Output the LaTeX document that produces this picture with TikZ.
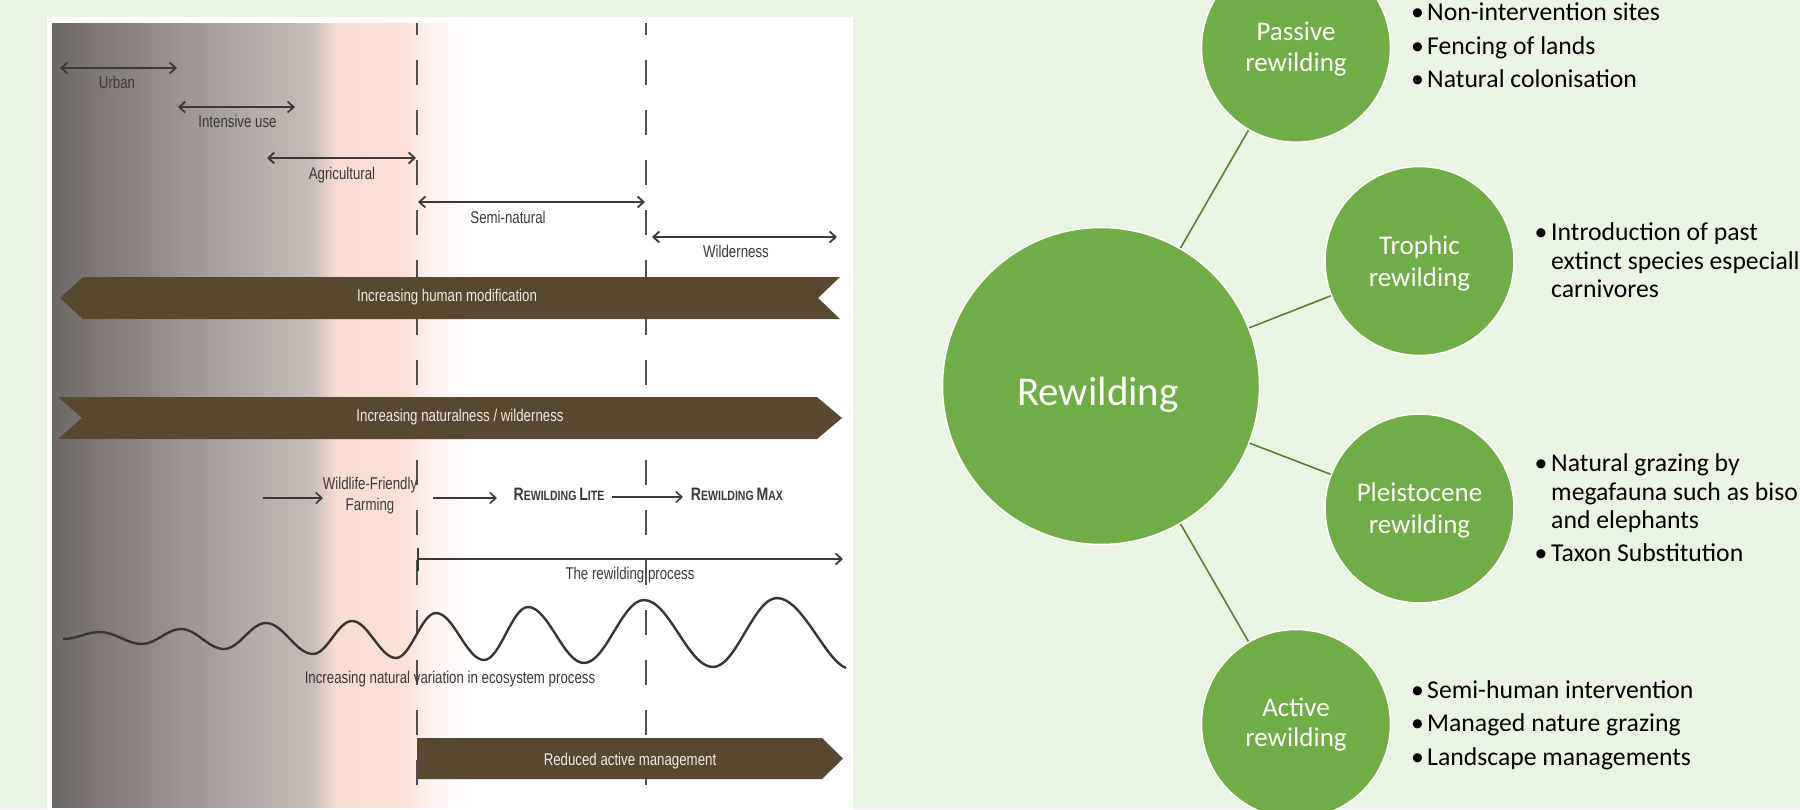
\documentclass[tikz,border=0pt]{standalone}
\usepackage{fontspec}
\setmainfont{Carlito}
\newfontfamily\narrowf[FakeStretch=0.78]{Liberation Sans}
\usetikzlibrary{arrows.meta}
\definecolor{bg}{HTML}{E9F5E2}
\definecolor{leaf}{HTML}{70AD47}
\definecolor{stem}{HTML}{548235}
\definecolor{bark}{HTML}{594830}
\definecolor{ink}{HTML}{3A3532}
\definecolor{lblgray}{HTML}{3C3A38}
\definecolor{bartext}{HTML}{EEEAE2}
\definecolor{dashgray}{HTML}{505050}
\definecolor{gA}{HTML}{6E6864}
\definecolor{gB}{HTML}{8E8682}
\definecolor{gC}{HTML}{B0A8A4}
\definecolor{gD}{HTML}{C6BCB8}
\definecolor{gE}{HTML}{F7DCD2}
\definecolor{gF}{HTML}{FCE0D6}
\definecolor{gG}{HTML}{FEF3EF}
\newcommand{\bigc}[1]{{\fontsize{18}{20}\selectfont #1}}
\begin{document}
\begin{tikzpicture}[x=1pt,y=-1pt,
  lbl/.style={font=\narrowf\fontsize{17}{20}\selectfont, text=lblgray, inner sep=0pt, anchor=base},
  smc/.style={font=\narrowf\bfseries\fontsize{13.5}{15}\selectfont, text=lblgray, inner sep=0pt, anchor=base},
  bartxt/.style={font=\narrowf\fontsize{17}{20}\selectfont, text=bartext, inner sep=0pt, anchor=base},
  span/.style={draw=lblgray, line width=1.8pt, {Straight Barb[length=6pt,width=11pt]}-{Straight Barb[length=6pt,width=11pt]}},
  fwd/.style={draw=lblgray, line width=1.6pt, -{Straight Barb[length=6pt,width=11pt]}},
  guide/.style={draw=dashgray, line width=1.8pt, dash pattern=on 25pt off 25pt, dash phase=13pt},
  bar/.style={fill=bark, draw=none},
  wave/.style={draw=ink, line width=2.4pt},
  hub/.style={circle, fill=leaf, draw=white, line width=1.5pt, inner sep=0pt},
  ctext/.style={font=\fontsize{27}{32}\selectfont, text=white, inner sep=0pt, anchor=base},
  btext/.style={font=\fontsize{25.7}{30}\selectfont, text=black, inner sep=0pt, anchor=base west},
  dot/.style={font=\fontsize{25.7}{30}\selectfont, text=black, inner sep=0pt, anchor=base},
  stemline/.style={draw=stem, line width=1.6pt}]
\useasboundingbox (0,0) rectangle (1800,809);
\clip (0,0) rectangle (1800,809);
\fill[bg] (0,0) rectangle (1800,809);
% ---------- left panel ----------
\fill[white] (47,17) rectangle (853,809);
\shade[left color=gA, right color=gB] (52,23) rectangle (140.5,807);
\shade[left color=gB, right color=gC] (140,23) rectangle (240.5,807);
\shade[left color=gC, right color=gD] (240,23) rectangle (312.5,807);
\shade[left color=gD, right color=gE] (312,23) rectangle (335.5,807);
\shade[left color=gE, right color=gF] (335,23) rectangle (405.5,807);
\shade[left color=gF, right color=gG] (405,23) rectangle (430.5,807);
\shade[left color=gG, right color=white] (430,23) rectangle (470,807);
% dashed guides
\draw[guide] (417,23) -- (417,809);
\draw[guide] (646,23) -- (646,809);
% span arrows
\draw[span] (60,68) -- (177,68);
\node[lbl] (urban) at (117,88) {Urban};
\draw[span] (178,107) -- (295,107);
\node[lbl] (intense) at (237.5,127.5) {Intensive use};
\draw[span] (267,158) -- (416,158);
\node[lbl] (agri) at (342,179) {Agricultural};
\draw[span] (418,202) -- (645,202);
\node[lbl] (semi) at (508,223) {Semi-natural};
\draw[span] (652,237) -- (837,237);
\node[lbl] (wild) at (736,257) {Wilderness};
% bars
\fill[bar] (83,277) -- (840,277) -- (818,298) -- (840,319) -- (83,319) -- (60,298) -- cycle;
\node[bartxt] (hm) at (447,301.7) {Increasing human modification};
\fill[bar] (58,397) -- (817,397) -- (842,418) -- (817,439) -- (58,439) -- (82,418) -- cycle;
\node[bartxt] (nw) at (460,421.7) {Increasing naturalness / wilderness};
% rewilding continuum
\draw[fwd] (263,498) -- (323,498);
\node[lbl] (wf1) at (370,489) {Wildlife-Friendly};
\node[lbl] (wf2) at (370,510.7) {Farming};
\draw[fwd] (433,498) -- (497,498);
\node[smc] (lite) at (559,500.6) {\bigc{R}EWILDING \bigc{L}ITE};
\draw[fwd] (612,497) -- (683,497);
\node[smc] (max) at (737,500.6) {\bigc{R}EWILDING \bigc{M}AX};
\draw[draw=lblgray, line width=1.8pt, {Bar[width=23pt]}-{Straight Barb[length=6pt,width=11pt]}] (417,559) -- (843,559);
\node[lbl] (proc) at (630,579) {The rewilding process};
% wave
\draw[wave] (63,639)
 .. controls (76.5,639) and (86.5,632) .. (100,632)
 .. controls (115.3,632) and (126.7,644) .. (142,644)
 .. controls (156.2,644) and (166.8,629) .. (181,629)
 .. controls (196.7,629) and (208.3,649) .. (224,649)
 .. controls (239.3,649) and (250.7,623) .. (266,623)
 .. controls (283.1,623) and (295.9,654) .. (313,654)
 .. controls (327.2,654) and (337.8,621) .. (352,621)
 .. controls (368,621) and (380,658) .. (396,658)
 .. controls (410.6,658) and (421.4,613) .. (436,613)
 .. controls (453.5,613) and (466.5,660) .. (484,660)
 .. controls (500,660) and (512,607) .. (528,607)
 .. controls (548.4,607) and (563.6,663) .. (584,663)
 .. controls (605.9,663) and (622.1,600) .. (644,600)
 .. controls (669.1,600) and (687.9,667) .. (713,667)
 .. controls (736.3,667) and (753.7,598) .. (777,598)
 .. controls (802.1,598) and (825,660) .. (846,668);
\node[lbl] (var) at (450,683) {Increasing natural variation in ecosystem process};
\fill[bar] (417,738) -- (822,738) -- (843,758.5) -- (822,779) -- (417,779) -- cycle;
\node[bartxt] (ram) at (630,765) {Reduced active management};
% ---------- right: mind map ----------
\node[hub, minimum size=317pt] (main) at (1101,386) {};
\node[hub, minimum size=189pt] (passive) at (1296,47.7) {};
\node[hub, minimum size=189pt] (trophic) at (1419.5,261) {};
\node[hub, minimum size=189pt] (pleist) at (1419.5,508.5) {};
\node[hub, minimum size=189pt] (active) at (1296,724) {};
\draw[stemline] (main) -- (passive);
\draw[stemline] (main) -- (trophic);
\draw[stemline] (main) -- (pleist);
\draw[stemline] (main) -- (active);
\node[font=\fontsize{41}{48}\selectfont, text=white, inner sep=0pt, anchor=base] (maint) at (1098,405) {Rewilding};
\node[ctext] (pa1) at (1296,40) {Passive};
\node[ctext] (pa2) at (1296,71.7) {rewilding};
\node[ctext] (tr1) at (1419.5,254) {Trophic};
\node[ctext] (tr2) at (1419.5,286) {rewilding};
\node[ctext] (pl1) at (1419.5,501.7) {Pleistocene};
\node[ctext] (pl2) at (1419.5,533) {rewilding};
\node[ctext] (ac1) at (1296,716.7) {Active};
\node[ctext] (ac2) at (1296,746.7) {rewilding};
% bullets: passive
\node[dot] (pd1) at (1417.5,20) {•};
\node[btext] (pb1) at (1427,20) {Non-intervention sites};
\node[dot] (pd2) at (1417.5,54) {•};
\node[btext] (pb2) at (1427,54) {Fencing of lands};
\node[dot] (pd3) at (1417.5,87.3) {•};
\node[btext] (pb3) at (1427,87.3) {Natural colonisation};
% bullets: trophic
\node[dot] (td1) at (1541,240) {•};
\node[btext] (tb1) at (1551,240) {Introduction of past};
\node[btext] (tb2) at (1551,269) {extinct species especiall};
\node[btext] (tb3) at (1551,297) {carnivores};
% bullets: pleistocene
\node[dot] (ld1) at (1541,471.7) {•};
\node[btext] (lb1) at (1551,471.7) {Natural grazing by};
\node[btext] (lb2) at (1551,500.5) {megafauna such as biso};
\node[btext] (lb3) at (1551,528.5) {and elephants};
\node[dot] (ld2) at (1541,561.7) {•};
\node[btext] (lb4) at (1551,561.7) {Taxon Substitution};
% bullets: active
\node[dot] (ad1) at (1417.5,698) {•};
\node[btext] (ab1) at (1427,698) {Semi-human intervention};
\node[dot] (ad2) at (1417.5,731.7) {•};
\node[btext] (ab2) at (1427,731.7) {Managed nature grazing};
\node[dot] (ad3) at (1417.5,765) {•};
\node[btext] (ab3) at (1427,765) {Landscape managements};
\end{tikzpicture}
\end{document}
